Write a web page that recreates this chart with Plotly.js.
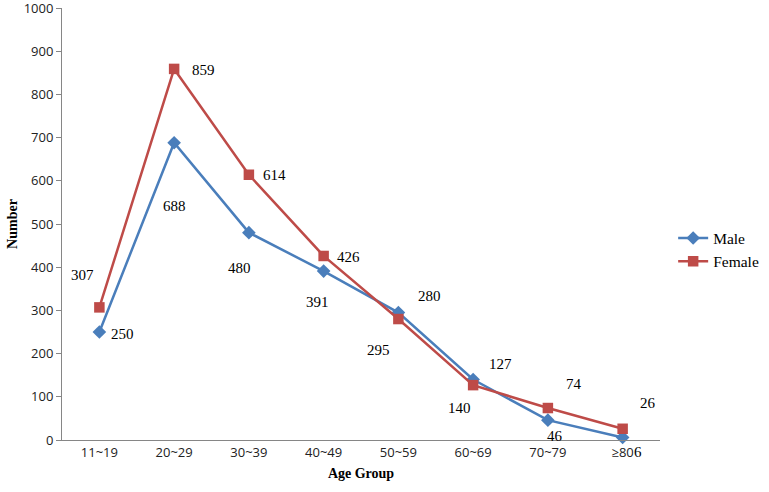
<!DOCTYPE html>
<html>
<head>
<meta charset="utf-8">
<script src="https://cdn.plot.ly/plotly-3.0.1.min.js"></script>
<style>html,body{margin:0;padding:0;background:#fff;}#chart{width:769px;height:492px;}</style>
</head>
<body>
<div id="chart"></div>
<script>
const categories = ["11~19", "20~29", "30~39", "40~49", "50~59", "60~69", "70~79", "≥80"];
const maleValues = [250, 688, 480, 391, 295, 140, 46, 6];
const femaleValues = [307, 859, 614, 426, 280, 127, 74, 26];
const yTickValues = [0, 100, 200, 300, 400, 500, 600, 700, 800, 900, 1000];

// label offsets in pixels (style only)
const maleLabelShift = [[23, -2], [0, -63], [-9, -35], [-6, -31], [-20, -37], [-14, -28], [7, -16], [15, -15]];
const femaleLabelShift = [[-17, 32], [29, -1], [26, 0], [25, -1], [31, 23], [27, 21], [26, 24], [25, 26]];

const maleColor = "#4A7EBB";
const femaleColor = "#BE4B48";
const serif = "Liberation Serif, Times New Roman, serif";
const sans = "Open Sans, Liberation Sans, sans-serif";

const traces = [
  {
    x: categories, y: maleValues, name: "Male", type: "scatter", mode: "lines+markers",
    line: {color: maleColor, width: 2.5},
    marker: {symbol: "diamond", size: 10.5, color: maleColor},
    hoverinfo: "skip", cliponaxis: false
  },
  {
    x: categories, y: femaleValues, name: "Female", type: "scatter", mode: "lines+markers",
    line: {color: femaleColor, width: 2.5},
    marker: {symbol: "square", size: 10.5, color: femaleColor},
    hoverinfo: "skip", cliponaxis: false
  }
];

const annotations = [];
categories.forEach((c, i) => {
  annotations.push({x: c, y: maleValues[i], text: String(maleValues[i]), showarrow: false,
    xshift: maleLabelShift[i][0], yshift: maleLabelShift[i][1], font: {family: serif, size: 15, color: "#000"}});
  annotations.push({x: c, y: femaleValues[i], text: String(femaleValues[i]), showarrow: false,
    xshift: femaleLabelShift[i][0], yshift: femaleLabelShift[i][1], font: {family: serif, size: 15, color: "#000"}});
});

const layout = {
  width: 769, height: 492,
  margin: {l: 62, r: 109, t: 8, b: 52, autoexpand: false},
  paper_bgcolor: "#fff", plot_bgcolor: "#fff",
  showlegend: true,
  legend: {x: 1.022, y: 0.44, xanchor: "left", yanchor: "middle",
    font: {family: serif, size: 15.5, color: "#000"}, tracegroupgap: 4, itemwidth: 30},
  xaxis: {
    type: "category", range: [-0.5, 7.5],
    showline: true, linecolor: "#868686", linewidth: 1,
    showgrid: false, zeroline: false, ticks: "",
    tickfont: {family: sans, size: 13, color: "#222"},
    title: {text: "Age Group", font: {family: serif, size: 14, color: "#000", weight: "bold"}, standoff: 8}
  },
  yaxis: {
    range: [0, 1000], tickvals: yTickValues, ticklabeloverflow: "allow",
    showline: true, linecolor: "#868686", linewidth: 1,
    showgrid: false, zeroline: false, ticks: "outside", ticklen: 5, tickcolor: "#868686",
    tickfont: {family: sans, size: 13, color: "#222"},
    title: {text: "Number", font: {family: serif, size: 14, color: "#000", weight: "bold"}, standoff: 2}
  },
  annotations: annotations
};

Plotly.newPlot("chart", traces, layout, {displayModeBar: false, staticPlot: true});
</script>
</body>
</html>
